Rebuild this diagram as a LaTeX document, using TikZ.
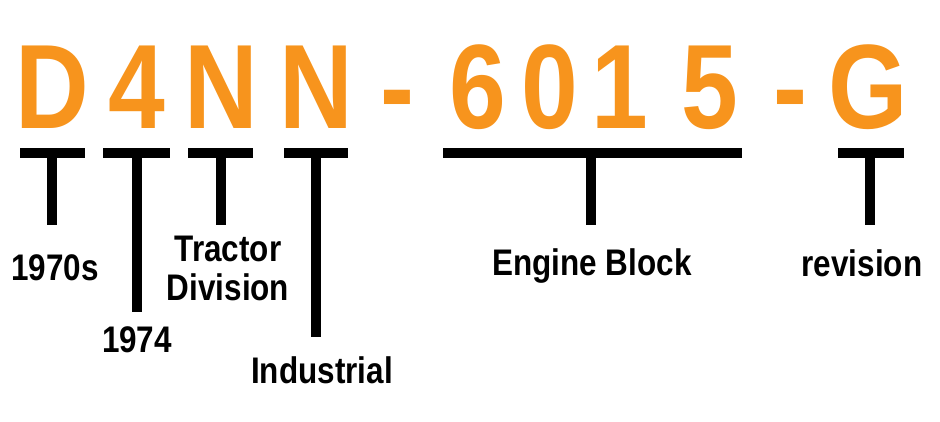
\documentclass[tikz,border=0pt]{standalone}
\usepackage{fontspec}
\setmainfont{Liberation Sans}[FakeStretch=0.85]
\definecolor{org}{HTML}{F7941D}
\begin{document}
\begin{tikzpicture}[x=1pt,y=-1pt,
  big/.style={text=org,font=\bfseries\fontsize{120}{120}\selectfont,anchor=base,inner sep=0},
  lab/.style={font=\bfseries\fontsize{37}{39}\selectfont,align=center,inner sep=0},
  bar/.style={line width=10pt}]
\useasboundingbox (0,0) rectangle (940,421);
\foreach \c/\x/\n in {D/52/a,4/137/b,N/221/c,N/316/d,-/397/e,6/478/f,0/550/g,1/620/h,5/710/i,-/790/j,G/868/k}
  \node[big] (\n) at (\x,128) {\c};
\foreach \l/\r/\s/\e/\n in {20/85/52/225/p,103/170/137/312/q,188/253/221/225/r,284/348/316/337/s,443/742/591/225/t,838/904/870/225/u}{
  \draw[bar] (\l,153) -- (\r,153);
  \coordinate (\n1) at (\s,153);
  \coordinate (\n2) at (\s,\e);
  \draw[bar] (\n1) -- (\n2);
}
\node[lab] (l1) at (55,268) {1970s};
\node[lab] (l2) at (137,340) {1974};
\node[lab] (l3) at (228,268) {Tractor\\Division};
\node[lab] (l4) at (322,370) {Industrial};
\node[lab] (l5) at (592,266) {Engine Block};
\node[lab] (l6) at (862,263) {revision};
\end{tikzpicture}
\end{document}
